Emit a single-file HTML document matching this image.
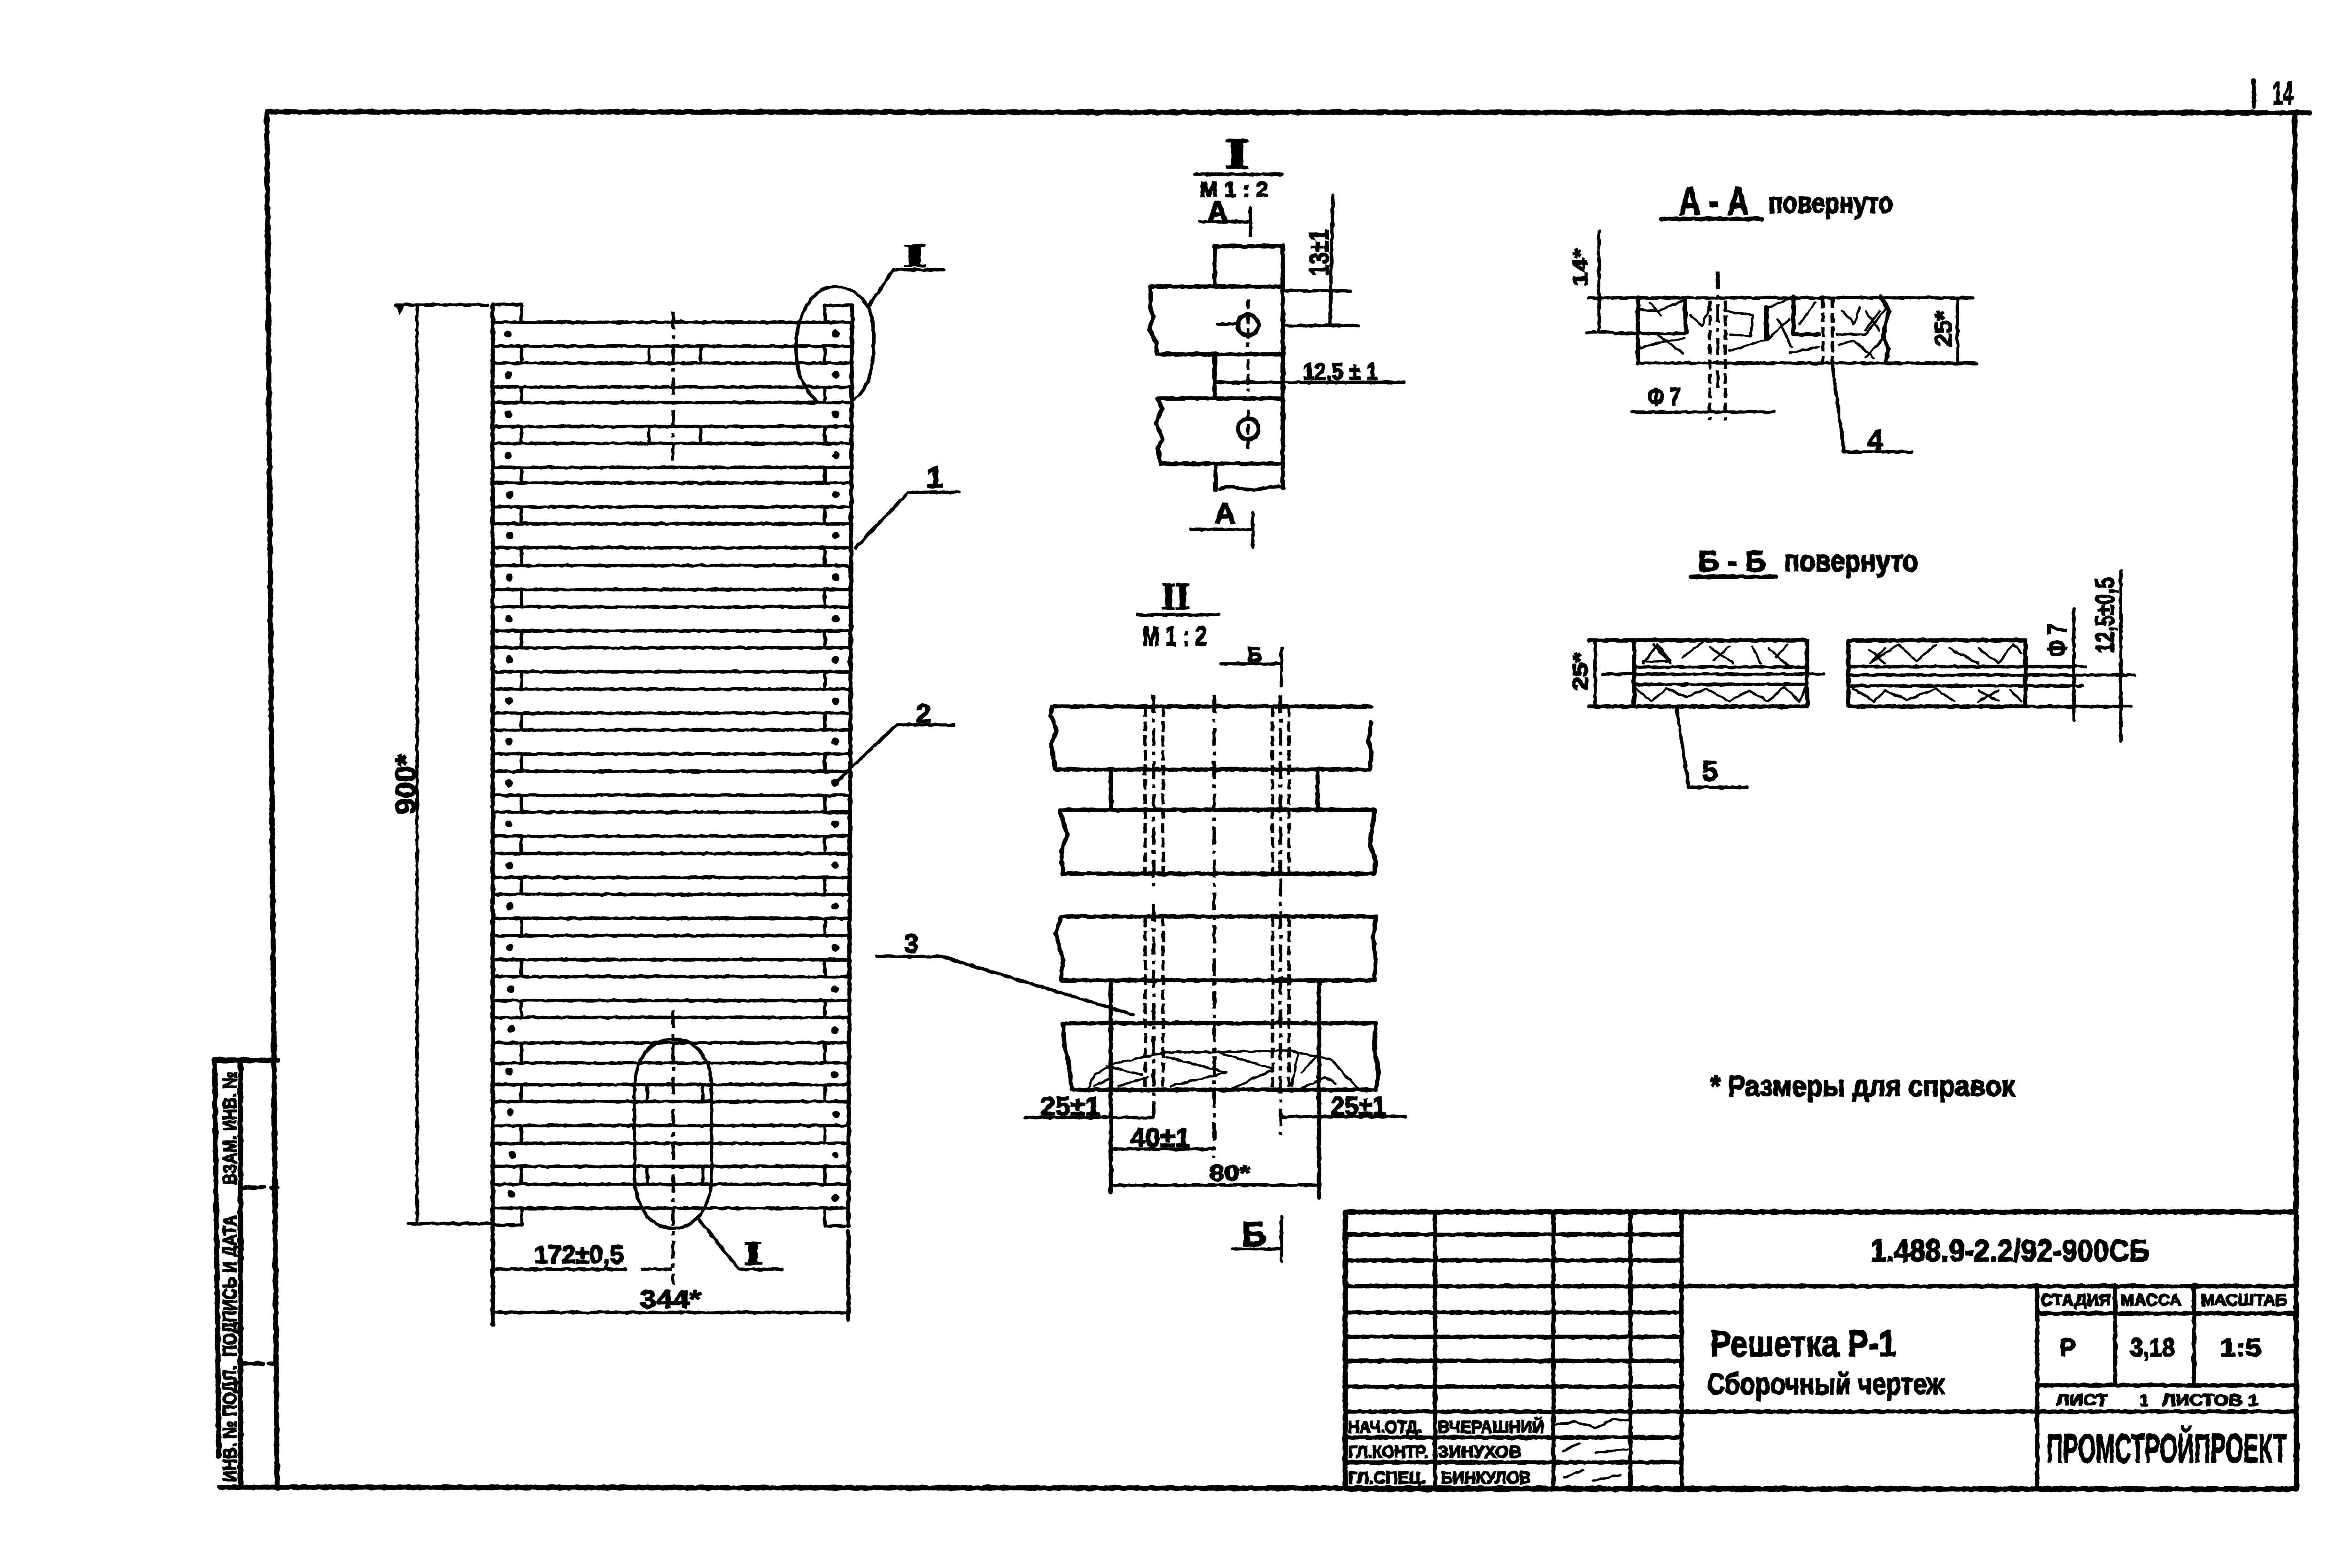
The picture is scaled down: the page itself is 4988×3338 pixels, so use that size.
<!DOCTYPE html>
<html lang="ru">
<head>
<meta charset="utf-8">
<title>Решетка Р-1. Сборочный чертеж</title>
<style>
html,body{margin:0;padding:0;background:#fff}
svg{display:block}
text{font-family:"Liberation Sans","DejaVu Sans",sans-serif;font-weight:700;fill:#000;stroke:#000;stroke-width:2.5}
text.sf{font-family:"Liberation Serif","DejaVu Serif",serif;stroke-width:3}
.l{fill:none;stroke:#000;stroke-width:7;stroke-linecap:round;stroke-linejoin:round}
.t{fill:none;stroke:#000;stroke-width:5;stroke-linecap:round;stroke-linejoin:round}
.h{fill:none;stroke:#000;stroke-width:9;stroke-linecap:round;stroke-linejoin:round}
.f{fill:none;stroke:#000;stroke-width:11;stroke-linecap:round;stroke-linejoin:round}
.d{fill:none;stroke:#000;stroke-width:7;stroke-dasharray:38 12 8 12}
.s{fill:none;stroke:#000;stroke-width:7;stroke-dasharray:22 9}
</style>
</head>
<body>
<svg xmlns="http://www.w3.org/2000/svg" width="4988" height="3338" viewBox="0 0 4988 3338">
<defs>
<filter id="r" x="0" y="0" width="100%" height="100%" filterUnits="userSpaceOnUse" primitiveUnits="userSpaceOnUse">
<feTurbulence type="fractalNoise" baseFrequency="0.07" numOctaves="2" seed="4" result="n"/>
<feDisplacementMap in="SourceGraphic" in2="n" scale="6" xChannelSelector="R" yChannelSelector="G"/>
</filter>
</defs>
<rect width="4988" height="3338" fill="#fff"/>
<g filter="url(#r)">

<!-- sheet frame -->
<path class="f" d="M4917 240 L568 238 L590 3166 L4889 3170 L4885 240"/>
<path class="h" d="M4798 172 V228"/>
<text x="4838" y="223" font-size="70" textLength="44" lengthAdjust="spacingAndGlyphs">14</text>

<!-- side stamp -->
<path class="f" d="M590 2257 H457 L466 3100 M467 3166 H590"/>
<path class="f" d="M512 2257 V3166"/>
<path class="h" d="M512 2528 H562 M578 2528 H590 M512 2903 H560 M572 2903 H590"/>
<text transform="translate(503,3155) rotate(-90)" font-size="41" textLength="248" lengthAdjust="spacingAndGlyphs">ИНВ. № ПОДЛ.</text>
<text transform="translate(503,2888) rotate(-90)" font-size="41" textLength="301" lengthAdjust="spacingAndGlyphs">ПОДПИСЬ И ДАТА</text>
<text transform="translate(503,2522) rotate(-90)" font-size="41" textLength="241" lengthAdjust="spacingAndGlyphs">ВЗАМ. ИНВ. №</text>

<!-- main lattice: rails -->
<path class="h" d="M1049 648 V2820 M1814 650 L1806 2610 M1806 2622 V2810"/>
<path class="l" d="M1049 648 H1110 V686 M1756 686 V650 H1812 M1049 2608 H1110 V2572 M1756 2572 V2610 H1806"/>
<!-- slats -->
<path class="l" d="M1049 686H1812M1049 737H1812M1049 773H1812M1049 824H1812M1049 857H1812M1049 908H1812M1049 944H1812M1049 995H1812M1049 1028H1811M1049 1079H1811M1049 1115H1811M1049 1166H1811M1049 1204H1811M1049 1255H1811M1049 1292H1811M1049 1343H1811M1049 1379H1811M1049 1430H1811M1049 1467H1810M1049 1518H1810M1049 1554H1810M1049 1605H1810M1049 1642H1810M1049 1693H1810M1049 1729H1809M1049 1780H1809M1049 1817H1809M1049 1868H1809M1049 1904H1809M1049 1955H1809M1049 1992H1808M1049 2043H1808M1049 2079H1808M1049 2130H1808M1049 2166H1808M1049 2220H1808M1049 2263H1807M1049 2309H1807M1049 2345H1807M1049 2396H1807M1049 2434H1807M1049 2483H1807M1049 2521H1806M1049 2572H1806"/>
<!-- inner rail edges in gaps -->
<path class="l" d="M1110 737V773M1110 824V857M1110 908V944M1110 995V1028M1110 1079V1115M1110 1166V1204M1110 1255V1292M1110 1343V1379M1110 1430V1467M1110 1518V1554M1110 1605V1642M1110 1693V1729M1110 1780V1817M1110 1868V1904M1110 1955V1992M1110 2043V2079M1110 2130V2166M1110 2220V2263M1110 2309V2345M1110 2396V2434M1110 2483V2521"/>
<path class="l" d="M1756 737V773M1756 824V857M1756 908V944M1756 995V1028M1756 1079V1115M1756 1166V1204M1756 1255V1292M1756 1343V1379M1756 1430V1467M1756 1518V1554M1756 1605V1642M1756 1693V1729M1756 1780V1817M1756 1868V1904M1756 1955V1992M1756 2043V2079M1756 2130V2166M1756 2220V2263M1756 2309V2345M1756 2396V2434M1756 2483V2521"/>
<!-- holes -->
<g fill="#000">
<circle cx="1082" cy="711" r="8"/><circle cx="1779" cy="711" r="8"/>
<circle cx="1082" cy="798" r="8"/><circle cx="1779" cy="798" r="8"/>
<circle cx="1082" cy="882" r="8"/><circle cx="1779" cy="882" r="8"/>
<circle cx="1082" cy="969" r="8"/><circle cx="1779" cy="969" r="8"/>
<circle cx="1085" cy="1053" r="8"/><circle cx="1779" cy="1053" r="8"/>
<circle cx="1085" cy="1140" r="8"/><circle cx="1779" cy="1140" r="8"/>
<circle cx="1084" cy="1229" r="8"/><circle cx="1779" cy="1229" r="8"/>
<circle cx="1084" cy="1317" r="8"/><circle cx="1779" cy="1317" r="8"/>
<circle cx="1084" cy="1404" r="8"/><circle cx="1779" cy="1404" r="8"/>
<circle cx="1084" cy="1492" r="8"/><circle cx="1779" cy="1492" r="8"/>
<circle cx="1084" cy="1579" r="8"/><circle cx="1778" cy="1579" r="8"/>
<circle cx="1084" cy="1667" r="8"/><circle cx="1778" cy="1667" r="8"/>
<circle cx="1084" cy="1754" r="8"/><circle cx="1778" cy="1754" r="8"/>
<circle cx="1085" cy="1842" r="8"/><circle cx="1778" cy="1842" r="8"/>
<circle cx="1085" cy="1929" r="8"/><circle cx="1778" cy="1929" r="8"/>
<circle cx="1085" cy="2017" r="8"/><circle cx="1778" cy="2017" r="8"/>
<circle cx="1088" cy="2106" r="8"/><circle cx="1777" cy="2106" r="8"/>
<circle cx="1088" cy="2191" r="8"/><circle cx="1777" cy="2194" r="8"/>
<circle cx="1084" cy="2281" r="8"/><circle cx="1777" cy="2287" r="8"/>
<circle cx="1086" cy="2368" r="8"/><circle cx="1780" cy="2372" r="8"/>
<circle cx="1090" cy="2458" r="8"/><circle cx="1778" cy="2459" r="7"/>
<circle cx="1089" cy="2542" r="8"/><circle cx="1778" cy="2550" r="8"/>
</g>
<!-- centre line and middle part marks -->
<path class="d" d="M1433 663 V982"/>
<path class="d" d="M1433 2151 V2735"/>
<path class="l" d="M1381 737V773M1492 737V773M1381 908V944M1492 908V944M1378 2311V2345M1496 2311V2345M1378 2486V2521M1496 2486V2521"/>
<!-- callout ovals -->
<path class="l" d="M1848 653 C1830 625 1805 610 1777 610 C1725 610 1695 680 1695 735 C1695 775 1700 805 1715 822 C1722 838 1733 850 1745 858 M1817 850 C1845 835 1860 790 1860 730 C1860 700 1858 675 1848 653"/>
<path class="l" d="M1351 2320 C1351 2250 1385 2212 1433 2212 C1480 2212 1515 2250 1515 2320 V2500 C1515 2570 1480 2615 1433 2615 C1385 2615 1351 2570 1351 2500 Z"/>
<!-- leaders -->
<path class="l" d="M1848 653 L1902 574 H2010"/>
<text class="sf" x="1948" y="567" font-size="70" text-anchor="middle" textLength="50" lengthAdjust="spacingAndGlyphs">I</text>
<path class="l" d="M1821 1166 L1934 1048 H2042"/>
<text x="1990" y="1038" font-size="64" text-anchor="middle">1</text>
<path class="l" d="M1775 1670 L1909 1543 H2030"/>
<text x="1966" y="1538" font-size="56" text-anchor="middle">2</text>
<path class="l" d="M1867 2036 H2004 L2412 2160"/>
<text x="1940" y="2028" font-size="56" text-anchor="middle">3</text>
<path class="l" d="M1489 2597 L1573 2702 H1665"/>
<text class="sf" x="1603" y="2691" font-size="70" text-anchor="middle" textLength="40" lengthAdjust="spacingAndGlyphs">I</text>
<!-- dimensions main -->
<path class="l" d="M842 649 H1039 M888 653 V2605 M869 2605 H1049"/>
<path fill="#000" d="M840 645 H864 L852 672 Z"/>
<text transform="translate(884,1670) rotate(-90)" font-size="60" text-anchor="middle" textLength="128" lengthAdjust="spacingAndGlyphs">900*</text>
<path class="l" d="M1049 2702 H1332 M1366 2702 H1427 M1049 2794 H1806"/>
<text x="1137" y="2689" font-size="54" textLength="191" lengthAdjust="spacingAndGlyphs">172±0,5</text>
<text x="1362" y="2784" font-size="54" textLength="130" lengthAdjust="spacingAndGlyphs">344*</text>

<!-- DETAIL I -->
<text class="sf" x="2634" y="358" font-size="92" text-anchor="middle" textLength="52" lengthAdjust="spacingAndGlyphs">I</text>
<path class="l" d="M2544 371 H2729"/>
<text x="2554" y="419" font-size="46" textLength="146" lengthAdjust="spacingAndGlyphs">М 1 : 2</text>
<text x="2592" y="470" font-size="60" text-anchor="middle">А</text>
<path class="l" d="M2554 472 H2662 M2662 441 V502"/>
<path class="h" d="M2586 610 V524 H2731 V1038"/>
<path class="h" d="M2731 610 H2449 V660 L2455 672 L2447 702 L2461 728 L2463 754 H2731"/>
<path class="h" d="M2465 848 H2731 M2465 848 L2474 870 L2461 900 L2475 935 L2465 955 L2471 987 H2731"/>
<path class="h" d="M2586 754 V848 M2588 987 V1044"/>
<path class="l" d="M2597 1042 C2625 1028 2650 1048 2680 1042 C2700 1036 2715 1034 2734 1038"/>
<circle class="h" cx="2657" cy="692" r="22"/>
<circle class="h" cx="2657" cy="913" r="22"/>
<path class="s" d="M2657 636 V738 M2657 765 V835 M2657 872 V965"/>
<path class="l" d="M2592 690 H2634"/>
<path class="l" d="M2729 619 H2876 M2732 693 H2892 M2838 416 L2831 693 M2592 814 H2988"/>
<text transform="translate(2828,538) rotate(-90)" font-size="58" text-anchor="middle" textLength="99" lengthAdjust="spacingAndGlyphs">13±1</text>
<text x="2774" y="808" font-size="50" textLength="159" lengthAdjust="spacingAndGlyphs">12,5 ± 1</text>
<text x="2608" y="1114" font-size="62" text-anchor="middle">А</text>
<path class="l" d="M2535 1127 H2667 M2667 1092 V1165"/>

<!-- DETAIL II -->
<path class="l" d="M2422 1309 H2594"/>
<text class="sf" x="2503" y="1296" font-size="80" text-anchor="middle" textLength="60" lengthAdjust="spacingAndGlyphs">II</text>
<text x="2432" y="1374" font-size="58" textLength="137" lengthAdjust="spacingAndGlyphs">М 1 : 2</text>
<text x="2671" y="1408" font-size="44" text-anchor="middle">Б</text>
<path class="l" d="M2600 1413 H2728 M2728 1379 V1460"/>
<!-- planks -->
<path class="h" d="M2920 1504 H2240 L2237 1523 L2250 1556 L2237 1585 L2247 1638 H2916 L2920 1604 L2913 1575 L2920 1537"/>
<path class="h" d="M2926 1733 V1724 H2256 L2272 1776 L2259 1815 L2263 1860 H2926 L2929 1834 L2916 1795 Z"/>
<path class="h" d="M2929 1951 H2259 L2247 1987 L2263 2044 L2259 2087 H2926 L2929 2044 L2923 1996 Z"/>
<path class="h" d="M2929 2178 H2263 L2266 2226 L2275 2264 L2282 2320 H2929 L2935 2284 L2926 2236 Z"/>
<path class="h" d="M2365 1638 V1724 M2805 1638 V1724 M2365 2087 V2537 M2808 2087 V2550"/>
<path class="s" d="M2438 1504 V1860 M2476 1504 V1860 M2438 1951 V2320 M2476 1951 V2320 M2709 1504 V1860 M2744 1504 V1860 M2709 1951 V2320 M2744 1951 V2320"/>
<path class="d" d="M2456 1480 V1886 M2456 1925 V2379 M2726 1480 V1860 M2726 1870 V2417 M2585 1480 V2465"/>
<path class="t" d="M2317 2317 L2330 2288 L2374 2264 L2483 2240 L2585 2240 L2738 2236 L2833 2255 L2859 2283 L2891 2317"/>
<path class="t" d="M2355 2269 L2432 2288 M2330 2312 L2368 2293 M2381 2312 L2444 2293 M2483 2250 L2610 2283 L2492 2312 M2591 2240 L2706 2274 M2617 2320 L2706 2279 M2750 2312 L2763 2245 M2770 2283 L2802 2250 M2770 2317 L2821 2293 L2843 2307"/>
<path class="l" d="M2183 2379 H2454 M2728 2377 H2993 M2365 2446 H2581 M2365 2523 H2808"/>
<text x="2215" y="2374" font-size="56" textLength="127" lengthAdjust="spacingAndGlyphs">25±1</text>
<text x="2833" y="2374" font-size="56" textLength="118" lengthAdjust="spacingAndGlyphs">25±1</text>
<text x="2406" y="2441" font-size="56" textLength="128" lengthAdjust="spacingAndGlyphs">40±1</text>
<text x="2575" y="2513" font-size="46" textLength="86" lengthAdjust="spacingAndGlyphs">80*</text>
<text x="2670" y="2652" font-size="72" text-anchor="middle">Б</text>
<path class="l" d="M2623 2659 H2728 M2728 2590 V2685"/>

<!-- SECTION A-A -->
<text x="3574" y="457" font-size="84" textLength="149" lengthAdjust="spacingAndGlyphs">А - А</text>
<path class="h" d="M3537 466 H3752"/>
<text x="3765" y="453" font-size="62" textLength="265" lengthAdjust="spacingAndGlyphs">повернуто</text>
<path class="l" d="M3383 634 H4200 M3487 773 H4208 M3379 707 H3433 M3437 710 H3586"/>
<path class="h" d="M3487 634 V773 M4005 630 L4021 662 L4009 716 L4021 743 L4013 770"/>
<path class="l" d="M3404 493 V707 M4167 636 V774 M3474 877 H3777"/>
<path class="s" d="M3640 640 V895 M3673 640 V895 M3881 634 V775 M3901 634 V775"/>
<path class="d" d="M3657 578 V828"/>
<path class="t" d="M3487 658 L3532 662 L3582 640 M3512 645 L3537 671 M3599 671 L3624 694 L3640 649 M3487 743 L3532 729 L3586 720 M3528 712 L3582 752 M3682 747 L3765 721 L3810 680 M3760 654 L3765 721 M3765 654 L3810 636 M3785 680 L3814 738 M3810 752 L3872 738 M3831 689 L3864 645 M3910 712 L3972 712 L4017 654 M3914 734 L3947 725 L3988 761 M3972 662 L4001 703 M4001 662 L3972 703 M4013 716 L3972 761 M3922 662 L3947 689 L3959 654 M3673 662 L3731 671 L3727 716 L3682 712"/>
<path class="h" d="M3586 636 L3590 707 M3818 631 V712 H3872 M3760 654 V721"/>
<path class="l" d="M3901 779 L3926 962 H4071"/>
<text x="3992" y="957" font-size="60" text-anchor="middle">4</text>
<text x="3508" y="863" font-size="54" textLength="70" lengthAdjust="spacingAndGlyphs">Ф 7</text>
<text transform="translate(3379,569) rotate(-90)" font-size="44" text-anchor="middle" textLength="80" lengthAdjust="spacingAndGlyphs">14*</text>
<text transform="translate(4154,700) rotate(-90)" font-size="50" text-anchor="middle" textLength="76" lengthAdjust="spacingAndGlyphs">25*</text>

<!-- SECTION Б-Б -->
<text x="3615" y="1216" font-size="62" textLength="145" lengthAdjust="spacingAndGlyphs">Б - Б</text>
<path class="h" d="M3599 1228 H3781"/>
<text x="3798" y="1216" font-size="64" textLength="286" lengthAdjust="spacingAndGlyphs">повернуто</text>
<path class="h" d="M3383 1363 H3847 V1504 H3383 M3479 1363 V1504"/>
<path class="l" d="M3396 1363 V1504 M3412 1435 H3881 M3479 1420 H3847 M3479 1457 H3847"/>
<path class="h" d="M4312 1363 H3935 V1504 H4312 V1363"/>
<path class="l" d="M3935 1419 H4440 M3935 1437 H4544 M3935 1460 H4432 M4312 1504 H4536 M4415 1296 V1533 M4515 1216 V1578"/>
<path class="t" d="M3499 1412 L3528 1372 L3557 1408 H3499 M3520 1372 L3557 1412 M3582 1399 L3624 1368 M3640 1377 L3690 1412 M3682 1377 L3648 1405 M3731 1377 L3748 1412 M3765 1380 L3806 1417 M3806 1372 L3781 1399 M3483 1466 L3516 1493 L3549 1466 L3590 1484 L3632 1466 L3682 1493 L3723 1470 L3765 1493 L3798 1462 L3831 1493 L3845 1461"/>
<path class="t" d="M3980 1384 L4013 1412 M4013 1380 L3980 1412 L4042 1372 L4080 1408 L4121 1372 M4150 1380 L4212 1412 M4212 1380 L4254 1412 L4285 1372 L4304 1390 M3945 1466 L3990 1493 L4013 1470 L4060 1490 L4121 1466 L4160 1493 M4212 1470 L4254 1493 M4254 1470 L4212 1493 M4280 1470 L4304 1493"/>
<path class="l" d="M3570 1511 L3595 1676 H3719"/>
<text x="3640" y="1662" font-size="60" text-anchor="middle">5</text>
<text transform="translate(3379,1430) rotate(-90)" font-size="44" text-anchor="middle" textLength="80" lengthAdjust="spacingAndGlyphs">25*</text>
<text transform="translate(4399,1363) rotate(-90)" font-size="58" text-anchor="middle" textLength="71" lengthAdjust="spacingAndGlyphs">Ф 7</text>
<text transform="translate(4500,1310) rotate(-90)" font-size="56" text-anchor="middle" textLength="161" lengthAdjust="spacingAndGlyphs">12,5±0,5</text>

<!-- note -->
<text x="3641" y="2333" font-size="62" textLength="648" lengthAdjust="spacingAndGlyphs">* Размеры для справок</text>

<!-- TITLE BLOCK -->
<path class="f" d="M2864 2580 H4889 M2864 2580 V3170 M2864 3170 H4889"/>
<path class="h" d="M2864 2628 H3580 M2864 2683 H3580 M2864 2738 H4889 M2864 2794 H3580 M2864 2846 H3580 M2864 2897 H3580 M2864 2952 H3580 M2864 3005 H4889 M2864 3060 H3580 M2864 3113 H3580"/>
<path class="h" d="M3055 2580 V3170 M3307 2580 V3170 M3471 2580 V3170 M3580 2580 V3170 M4337 2736 V3170 M4337 2796 H4889 M4337 2949 H4889 M4503 2736 V2949 M4671 2736 V2949"/>
<text x="3982" y="2685" font-size="66" textLength="594" lengthAdjust="spacingAndGlyphs">1.488.9-2.2/92-900СБ</text>
<text x="3641" y="2887" font-size="78" textLength="396" lengthAdjust="spacingAndGlyphs">Решетка Р-1</text>
<text x="3634" y="2968" font-size="64" textLength="505" lengthAdjust="spacingAndGlyphs">Сборочный чертеж</text>
<g font-size="34">
<text x="4344" y="2779" textLength="150" lengthAdjust="spacingAndGlyphs">СТАДИЯ</text>
<text x="4514" y="2779" textLength="130" lengthAdjust="spacingAndGlyphs">МАССА</text>
<text x="4685" y="2779" textLength="184" lengthAdjust="spacingAndGlyphs">МАСШТАБ</text>
<text x="4378" y="2992" textLength="109" lengthAdjust="spacingAndGlyphs">ЛИСТ</text>
<text x="4555" y="2992">1</text>
<text x="4603" y="2992" textLength="205" lengthAdjust="spacingAndGlyphs">ЛИСТОВ 1</text>
</g>
<g font-size="54">
<text x="4385" y="2887" textLength="34" lengthAdjust="spacingAndGlyphs">Р</text>
<text x="4535" y="2887" textLength="95" lengthAdjust="spacingAndGlyphs">3,18</text>
<text x="4726" y="2887" textLength="88" lengthAdjust="spacingAndGlyphs">1:5</text>
</g>
<text x="4357" y="3113" font-size="86" textLength="512" lengthAdjust="spacingAndGlyphs">ПРОМСТРОЙПРОЕКТ</text>
<g font-size="36">
<text x="2870" y="3050" textLength="157" lengthAdjust="spacingAndGlyphs">НАЧ.ОТД.</text>
<text x="3061" y="3050" textLength="226" lengthAdjust="spacingAndGlyphs">ВЧЕРАШНИЙ</text>
<text x="2870" y="3103" textLength="170" lengthAdjust="spacingAndGlyphs">ГЛ.КОНТР.</text>
<text x="3061" y="3103" textLength="178" lengthAdjust="spacingAndGlyphs">ЗИНУХОВ</text>
<text x="2870" y="3158" textLength="165" lengthAdjust="spacingAndGlyphs">ГЛ.СПЕЦ.</text>
<text x="3068" y="3158" textLength="191" lengthAdjust="spacingAndGlyphs">БИНКУЛОВ</text>
</g>
<path class="t" d="M3314 3032 L3355 3027 L3396 3040 L3437 3020 L3471 3025 M3327 3090 L3362 3073 M3396 3093 L3464 3085 M3330 3145 L3370 3130 M3390 3152 L3450 3140"/>
</g>
</svg>
</body>
</html>
